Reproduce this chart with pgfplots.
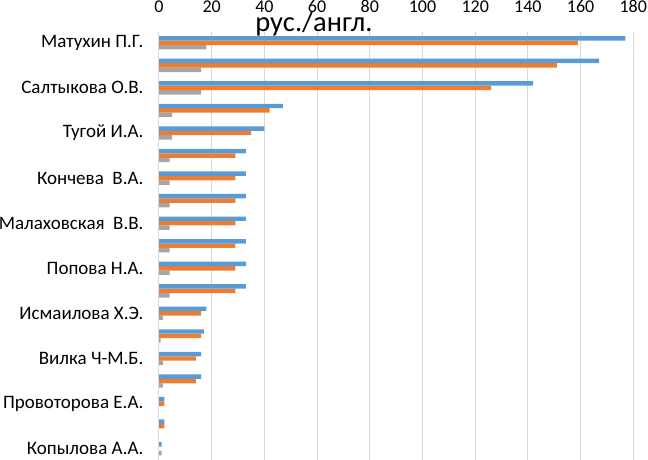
\documentclass[border=0pt]{standalone}
\usepackage{fontspec}
\setmainfont{Carlito}
\usepackage{pgfplots}
\pgfplotsset{compat=1.18}
\definecolor{cblue}{HTML}{5B9BD5}
\definecolor{corange}{HTML}{ED7D31}
\definecolor{cgray}{HTML}{A5A5A5}
\definecolor{cgrid}{HTML}{D9D9D9}
\begin{document}
\begin{tikzpicture}[x=1pt,y=1pt]
\useasboundingbox (0,0) rectangle (648,460);
\begin{axis}[
  at={(159pt,0pt)}, anchor=south west,
  width=474.3pt, height=428.5pt, scale only axis,
  xbar=0pt, bar width=4.45pt,
  xmin=0, xmax=180, ymin=0.5, ymax=19.5,
  y dir=reverse,
  axis line style={draw=none},
  xtick={0,20,...,180},
  xmajorgrids, major grid style={cgrid, line width=1pt},
  major tick length=0pt,
  xticklabel pos=upper,
  xticklabel style={anchor=base, yshift=19pt, font=\fontsize{18}{21}\selectfont},
  /pgf/number format/assume math mode=true,
  ytick={1,3,...,19},
  yticklabels={Матухин П.Г., Салтыкова О.В., Тугой И.А., Кончева\ \ В.А., Малаховская\ \ В.В., Попова Н.А., Исмаилова Х.Э., Вилка Ч-М.Б., Провоторова Е.А., Копылова А.А.},
  yticklabel style={anchor=east, xshift=-12pt, font=\fontsize{19}{22}\selectfont},
  clip=false,
]
\addplot[draw=none, fill=cgray] coordinates {
(18,1) (16,2) (16,3) (5,4) (5,5) (4,6) (4,7) (4,8) (4,9) (4,10) (4,11) (4,12) (1.5,13) (0.6,14) (1.5,15) (1.5,16) (0,17) (0,18) (1,19)};
\addplot[draw=none, fill=corange] coordinates {
(159,1) (151,2) (126,3) (42,4) (35,5) (29,6) (29,7) (29,8) (29,9) (29,10) (29,11) (29,12) (16,13) (16,14) (14,15) (14,16) (2,17) (2,18) (0,19)};
\addplot[draw=none, fill=cblue] coordinates {
(177,1) (167,2) (142,3) (47,4) (40,5) (33,6) (33,7) (33,8) (33,9) (33,10) (33,11) (33,12) (18,13) (17,14) (16,15) (16,16) (2,17) (2,18) (1,19)};
\draw[cgrid, line width=1pt] (axis cs:0,0.5) -- (axis cs:0,19.5);
\end{axis}
\node[font=\fontsize{28.5}{32}\selectfont, anchor=base, inner sep=0pt] at (314,428.3) {рус./англ.};
\end{tikzpicture}
\end{document}
